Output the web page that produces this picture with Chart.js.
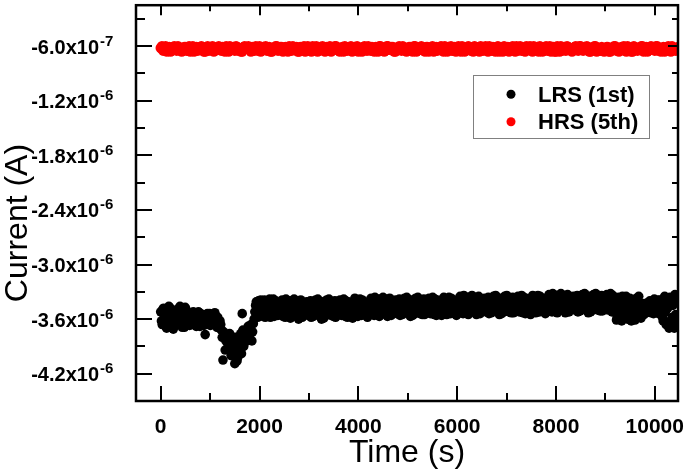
<!DOCTYPE html>
<html>
<head>
<meta charset="utf-8">
<script src="https://cdn.jsdelivr.net/npm/chart.js@4/dist/chart.umd.min.js"></script>
<style>
  html, body { margin: 0; padding: 0; background: #fff; }
  canvas { display: block; }
</style>
</head>
<body>
<canvas id="chart" width="685" height="474"></canvas>
<script>
const FONT = "'Liberation Sans', Arial, sans-serif";

// axis ranges and ticks
const xRange = [-500, 10470];
const yRange = [-4.5e-6, -1.5e-7];
const xMajorTicks = [0, 2000, 4000, 6000, 8000, 10000];
const xMinorTicks = [1000, 3000, 5000, 7000, 9000];
const yMajorTicks = [-6.0e-7, -1.2e-6, -1.8e-6, -2.4e-6, -3.0e-6, -3.6e-6, -4.2e-6];
const yMinorTicks = [-3.0e-7, -9.0e-7, -1.5e-6, -2.1e-6, -2.7e-6, -3.3e-6, -3.9e-6];
const yTickMantissa = ['-6.0x10', '-1.2x10', '-1.8x10', '-2.4x10', '-3.0x10', '-3.6x10', '-4.2x10'];
const yTickExponent = ['-7', '-6', '-6', '-6', '-6', '-6', '-6'];

const xTitle = 'Time (s)';
const yTitle = 'Current (A)';
const legendLabels = ['LRS (1st)', 'HRS (5th)'];
const seriesColors = ['#000000', '#ff0000'];

// LRS (1st), in µA: readings every 30 s starting at 0 s ...
const lrsInterval = 30;
const lrsCurrentA = [
  -3.52, -3.66, -3.48, -3.60, -3.70, -3.55, -3.47, -3.63, -3.58, -3.68, -3.50, -3.57, -3.65, -3.46, -3.61, -3.54, -3.69, -3.49, -3.59, -3.64,
  -3.55, -3.66, -3.52, -3.61, -3.68, -3.57, -3.53, -3.64, -3.59, -3.67, -3.77, -3.56, -3.62, -3.54, -3.66, -3.58, -3.64, -3.56, -3.69, -3.62,
  -3.62, -3.72, -4.05, -3.76, -3.84, -3.80, -3.90, -3.78, -3.96, -3.86, -4.09, -3.82, -4.02, -3.88, -3.76, -3.54, -3.90, -3.74, -3.84, -3.68,
  -3.80, -3.66, -3.74, -3.60, -3.45, -3.55, -3.40, -3.52, -3.44, -3.57, -3.39, -3.49, -3.55, -3.42, -3.58, -3.46, -3.38, -3.53, -3.44, -3.56,
  -3.45, -3.55, -3.39, -3.50, -3.58, -3.43, -3.52, -3.40, -3.56, -3.47, -3.38, -3.53, -3.44, -3.60, -3.49, -3.41, -3.55, -3.46, -3.51, -3.42,
  -3.54, -3.40, -3.48, -3.57, -3.43, -3.51, -3.38, -3.55, -3.46, -3.42, -3.59, -3.49, -3.39, -3.53, -3.45, -3.56, -3.41, -3.50, -3.58, -3.44,
  -3.47, -3.39, -3.56, -3.44, -3.52, -3.40, -3.58, -3.48, -3.42, -3.54, -3.45, -3.37, -3.51, -3.57, -3.43, -3.49, -3.39, -3.55, -3.46, -3.52,
  -3.42, -3.53, -3.37, -3.48, -3.56, -3.41, -3.50, -3.38, -3.54, -3.45, -3.36, -3.51, -3.43, -3.57, -3.47, -3.39, -3.53, -3.44, -3.49, -3.40,
  -3.52, -3.38, -3.46, -3.55, -3.41, -3.49, -3.36, -3.53, -3.44, -3.40, -3.56, -3.47, -3.37, -3.51, -3.43, -3.54, -3.39, -3.48, -3.55, -3.42,
  -3.45, -3.37, -3.54, -3.42, -3.50, -3.38, -3.56, -3.46, -3.40, -3.52, -3.43, -3.36, -3.49, -3.55, -3.41, -3.47, -3.37, -3.53, -3.44, -3.50,
  -3.40, -3.51, -3.35, -3.46, -3.54, -3.39, -3.48, -3.36, -3.52, -3.43, -3.34, -3.49, -3.41, -3.55, -3.45, -3.37, -3.51, -3.42, -3.47, -3.38,
  -3.50, -3.36, -3.44, -3.53, -3.39, -3.47, -3.34, -3.51, -3.42, -3.38, -3.54, -3.45, -3.35, -3.49, -3.41, -3.52, -3.37, -3.46, -3.53, -3.40,
  -3.43, -3.35, -3.52, -3.40, -3.48, -3.36, -3.54, -3.44, -3.38, -3.50, -3.41, -3.34, -3.47, -3.53, -3.39, -3.45, -3.35, -3.51, -3.42, -3.48,
  -3.38, -3.49, -3.33, -3.44, -3.52, -3.37, -3.46, -3.34, -3.50, -3.41, -3.32, -3.47, -3.39, -3.53, -3.43, -3.35, -3.49, -3.40, -3.45, -3.36,
  -3.48, -3.34, -3.42, -3.51, -3.37, -3.45, -3.32, -3.49, -3.40, -3.36, -3.52, -3.43, -3.33, -3.47, -3.39, -3.50, -3.35, -3.44, -3.51, -3.38,
  -3.41, -3.33, -3.50, -3.38, -3.46, -3.34, -3.52, -3.44, -3.58, -3.36, -3.50, -3.62, -3.42, -3.55, -3.35, -3.60, -3.47, -3.39, -3.57, -3.45,
  -3.61, -3.37, -3.52, -3.44, -3.59, -3.46, -3.55, -3.43, -3.50, -3.48, -3.40, -3.53, -3.45, -3.38, -3.51, -3.42, -3.54, -3.39, -3.47, -3.62,
  -3.35, -3.66, -3.48, -3.70, -3.40, -3.58, -3.68, -3.33, -3.63
];
// ... and the readings in between, starting at 15 s
const lrsOffsetB = 15;
const lrsCurrentB = [
  -3.62, -3.49, -3.57, -3.68, -3.53, -3.46, -3.64, -3.59, -3.71, -3.51, -3.56, -3.66, -3.48, -3.60, -3.69, -3.54, -3.47, -3.62, -3.58, -3.67,
  -3.60, -3.53, -3.65, -3.57, -3.63, -3.52, -3.68, -3.58, -3.55, -3.62, -3.66, -3.54, -3.60, -3.67, -3.56, -3.61, -3.53, -3.64, -3.58, -3.70,
  -3.66, -3.80, -3.74, -3.94, -3.82, -3.88, -3.76, -4.00, -3.90, -3.95, -3.80, -4.06, -3.92, -3.84, -3.98, -3.72, -3.86, -3.78, -3.74, -3.80,
  -3.70, -3.84, -3.65, -3.52, -3.41, -3.58, -3.47, -3.39, -3.55, -3.48, -3.58, -3.43, -3.51, -3.38, -3.53, -3.45, -3.57, -3.40, -3.50, -3.47,
  -3.50, -3.41, -3.57, -3.46, -3.38, -3.54, -3.48, -3.59, -3.43, -3.51, -3.56, -3.40, -3.49, -3.53, -3.39, -3.58, -3.45, -3.52, -3.41, -3.56,
  -3.47, -3.58, -3.42, -3.52, -3.39, -3.55, -3.45, -3.50, -3.60, -3.41, -3.48, -3.56, -3.44, -3.38, -3.53, -3.47, -3.57, -3.40, -3.51, -3.46,
  -3.55, -3.43, -3.50, -3.38, -3.57, -3.46, -3.41, -3.53, -3.48, -3.59, -3.40, -3.54, -3.45, -3.49, -3.38, -3.56, -3.44, -3.51, -3.42, -3.58,
  -3.48, -3.39, -3.55, -3.44, -3.36, -3.52, -3.46, -3.57, -3.41, -3.49, -3.54, -3.38, -3.47, -3.51, -3.37, -3.56, -3.43, -3.50, -3.39, -3.54,
  -3.45, -3.56, -3.40, -3.50, -3.37, -3.53, -3.43, -3.48, -3.57, -3.39, -3.46, -3.54, -3.42, -3.36, -3.51, -3.45, -3.55, -3.38, -3.49, -3.44,
  -3.53, -3.41, -3.48, -3.36, -3.55, -3.44, -3.39, -3.51, -3.46, -3.56, -3.38, -3.52, -3.43, -3.47, -3.36, -3.54, -3.42, -3.49, -3.40, -3.56,
  -3.46, -3.37, -3.53, -3.42, -3.34, -3.50, -3.44, -3.55, -3.39, -3.47, -3.52, -3.36, -3.45, -3.49, -3.35, -3.54, -3.41, -3.48, -3.37, -3.52,
  -3.43, -3.54, -3.38, -3.48, -3.35, -3.51, -3.41, -3.46, -3.55, -3.37, -3.44, -3.52, -3.40, -3.34, -3.49, -3.43, -3.53, -3.36, -3.47, -3.42,
  -3.51, -3.39, -3.46, -3.34, -3.53, -3.42, -3.37, -3.49, -3.44, -3.55, -3.36, -3.50, -3.41, -3.45, -3.34, -3.52, -3.40, -3.47, -3.38, -3.54,
  -3.44, -3.35, -3.51, -3.40, -3.32, -3.48, -3.42, -3.53, -3.37, -3.45, -3.50, -3.34, -3.43, -3.47, -3.33, -3.52, -3.39, -3.46, -3.35, -3.50,
  -3.41, -3.52, -3.36, -3.46, -3.33, -3.49, -3.39, -3.44, -3.53, -3.35, -3.42, -3.50, -3.38, -3.32, -3.47, -3.41, -3.51, -3.34, -3.45, -3.40,
  -3.49, -3.37, -3.44, -3.32, -3.52, -3.40, -3.47, -3.61, -3.39, -3.54, -3.45, -3.35, -3.59, -3.48, -3.41, -3.56, -3.37, -3.62, -3.50, -3.43,
  -3.55, -3.45, -3.35, -3.58, -3.49, -3.43, -3.46, -3.53, -3.42, -3.51, -3.47, -3.41, -3.54, -3.44, -3.49, -3.39, -3.52, -3.46, -3.58, -3.42,
  -3.52, -3.41, -3.67, -3.36, -3.61, -3.45, -3.70, -3.55, -3.38
];

// HRS (5th), in µA: readings every 50 s starting at 0 s ...
const hrsInterval = 50;
const hrsCurrentA = [
  -0.62, -0.65, -0.60, -0.63, -0.66, -0.61, -0.64, -0.60, -0.62, -0.65,
  -0.61, -0.64, -0.66, -0.60, -0.63, -0.65, -0.61, -0.62, -0.66, -0.60,
  -0.63, -0.60, -0.65, -0.62, -0.64, -0.61, -0.66, -0.63, -0.60, -0.64,
  -0.65, -0.61, -0.63, -0.66, -0.60, -0.62, -0.64, -0.61, -0.65, -0.62,
  -0.60, -0.64, -0.62, -0.65, -0.61, -0.66, -0.63, -0.60, -0.64, -0.61,
  -0.64, -0.62, -0.60, -0.65, -0.63, -0.61, -0.66, -0.62, -0.60, -0.65,
  -0.61, -0.66, -0.63, -0.60, -0.64, -0.62, -0.65, -0.61, -0.63, -0.66,
  -0.63, -0.60, -0.65, -0.62, -0.66, -0.61, -0.64, -0.60, -0.65, -0.62,
  -0.66, -0.62, -0.61, -0.64, -0.60, -0.65, -0.63, -0.61, -0.66, -0.60,
  -0.62, -0.65, -0.60, -0.63, -0.61, -0.66, -0.62, -0.64, -0.60, -0.63,
  -0.64, -0.61, -0.66, -0.60, -0.65, -0.62, -0.63, -0.66, -0.61, -0.64,
  -0.60, -0.63, -0.65, -0.61, -0.64, -0.60, -0.66, -0.62, -0.65, -0.61,
  -0.65, -0.62, -0.60, -0.66, -0.63, -0.61, -0.64, -0.60, -0.62, -0.66,
  -0.61, -0.64, -0.62, -0.60, -0.65, -0.63, -0.61, -0.66, -0.64, -0.60,
  -0.63, -0.66, -0.61, -0.64, -0.60, -0.62, -0.65, -0.63, -0.60, -0.64,
  -0.62, -0.60, -0.64, -0.66, -0.61, -0.65, -0.60, -0.63, -0.66, -0.61,
  -0.66, -0.63, -0.60, -0.62, -0.65, -0.61, -0.64, -0.62, -0.60, -0.65,
  -0.60, -0.65, -0.63, -0.61, -0.66, -0.64, -0.60, -0.62, -0.65, -0.63,
  -0.64, -0.61, -0.66, -0.63, -0.60, -0.62, -0.65, -0.61, -0.64, -0.60,
  -0.62, -0.66, -0.61, -0.65, -0.63, -0.60, -0.64, -0.66, -0.61, -0.63,
  -0.65, -0.60, -0.63, -0.62, -0.66, -0.61, -0.64, -0.60, -0.63, -0.62
];
// ... and the readings in between, starting at 25 s
const hrsOffsetB = 25;
const hrsCurrentB = [
  -0.60, -0.64, -0.66, -0.61, -0.63, -0.60, -0.65, -0.62, -0.66, -0.61,
  -0.65, -0.60, -0.62, -0.66, -0.61, -0.64, -0.60, -0.66, -0.63, -0.65,
  -0.61, -0.66, -0.62, -0.60, -0.65, -0.63, -0.60, -0.66, -0.62, -0.61,
  -0.60, -0.65, -0.66, -0.61, -0.63, -0.60, -0.66, -0.62, -0.60, -0.65,
  -0.66, -0.61, -0.60, -0.64, -0.66, -0.62, -0.60, -0.65, -0.61, -0.66,
  -0.61, -0.66, -0.63, -0.60, -0.62, -0.66, -0.61, -0.64, -0.66, -0.60,
  -0.65, -0.60, -0.62, -0.66, -0.61, -0.60, -0.66, -0.63, -0.60, -0.64,
  -0.60, -0.64, -0.66, -0.61, -0.60, -0.65, -0.62, -0.66, -0.61, -0.60,
  -0.62, -0.66, -0.60, -0.65, -0.62, -0.61, -0.66, -0.64, -0.60, -0.65,
  -0.66, -0.60, -0.64, -0.61, -0.66, -0.63, -0.60, -0.65, -0.62, -0.66,
  -0.61, -0.65, -0.60, -0.66, -0.62, -0.60, -0.65, -0.61, -0.66, -0.63,
  -0.66, -0.61, -0.62, -0.60, -0.66, -0.64, -0.61, -0.60, -0.65, -0.66,
  -0.60, -0.66, -0.64, -0.62, -0.60, -0.65, -0.66, -0.61, -0.63, -0.60,
  -0.65, -0.60, -0.66, -0.63, -0.61, -0.66, -0.60, -0.62, -0.66, -0.64,
  -0.61, -0.63, -0.60, -0.66, -0.65, -0.60, -0.62, -0.66, -0.61, -0.60,
  -0.66, -0.64, -0.61, -0.60, -0.66, -0.62, -0.65, -0.60, -0.61, -0.66,
  -0.60, -0.66, -0.65, -0.61, -0.60, -0.64, -0.66, -0.61, -0.63, -0.60,
  -0.64, -0.61, -0.60, -0.66, -0.62, -0.60, -0.66, -0.65, -0.61, -0.66,
  -0.61, -0.66, -0.63, -0.60, -0.65, -0.66, -0.61, -0.60, -0.66, -0.62,
  -0.66, -0.60, -0.64, -0.62, -0.60, -0.66, -0.61, -0.65, -0.60, -0.64,
  -0.60, -0.65, -0.66, -0.61, -0.63, -0.60, -0.66, -0.62, -0.65, -0.61
];

// readings are evenly spaced in time; values are µA, axis is A
const toPoints = (values, interval, start) =>
  values.map((v, i) => ({ x: start + i * interval, y: v * 1e-6 }));

const lrsPoints = toPoints(lrsCurrentA, lrsInterval, 0).concat(toPoints(lrsCurrentB, lrsInterval, lrsOffsetB));
const hrsPoints = toPoints(hrsCurrentA, hrsInterval, 0).concat(toPoints(hrsCurrentB, hrsInterval, hrsOffsetB));

// frame, inward ticks, superscript y labels, y title and legend
const decorPlugin = {
  id: 'decor',
  afterDraw(chart) {
    const { ctx, chartArea: a, scales: { x, y } } = chart;
    ctx.save();
    ctx.strokeStyle = '#000';
    ctx.fillStyle = '#000';

    const line = (x1, y1, x2, y2) => {
      ctx.beginPath();
      ctx.moveTo(x1, y1);
      ctx.lineTo(x2, y2);
      ctx.stroke();
    };

    ctx.lineWidth = 2;
    xMajorTicks.forEach(v => {
      const px = Math.round(x.getPixelForValue(v));
      line(px, a.bottom, px, a.bottom - 15);
      line(px, a.top, px, a.top + 10);
    });
    xMinorTicks.forEach(v => {
      const px = Math.round(x.getPixelForValue(v));
      line(px, a.bottom, px, a.bottom - 8);
      line(px, a.top, px, a.top + 6);
    });
    yMajorTicks.forEach(v => {
      const py = Math.round(y.getPixelForValue(v));
      line(a.left, py, a.left + 16, py);
      line(a.right, py, a.right - 10, py);
    });
    yMinorTicks.forEach(v => {
      const py = Math.round(y.getPixelForValue(v));
      line(a.left, py, a.left + 9, py);
      line(a.right, py, a.right - 6, py);
    });

    ctx.lineWidth = 2.5;
    ctx.strokeRect(a.left, a.top, a.right - a.left, a.bottom - a.top);

    // y tick labels with superscript exponent
    ctx.textBaseline = 'alphabetic';
    yMajorTicks.forEach((v, i) => {
      const py = y.getPixelForValue(v);
      ctx.font = `bold 20px ${FONT}`;
      ctx.textAlign = 'right';
      ctx.fillText(yTickMantissa[i], 99, py + 7.5);
      ctx.font = `bold 15px ${FONT}`;
      ctx.textAlign = 'left';
      ctx.fillText(yTickExponent[i], 100, py - 0.5);
    });

    // y title
    ctx.save();
    ctx.translate(27, 223);
    ctx.rotate(-Math.PI / 2);
    ctx.font = `32px ${FONT}`;
    ctx.textAlign = 'center';
    ctx.fillText(yTitle, 0, 0);
    ctx.restore();

    // legend
    ctx.lineWidth = 1;
    ctx.strokeStyle = '#808080';
    ctx.strokeRect(473.5, 75.5, 176, 63);
    const rows = [94.3, 121.7];
    ctx.font = `bold 22px ${FONT}`;
    ctx.textAlign = 'left';
    legendLabels.forEach((label, i) => {
      ctx.fillStyle = seriesColors[i];
      ctx.beginPath();
      ctx.arc(511, rows[i], 4.5, 0, Math.PI * 2);
      ctx.fill();
      ctx.fillStyle = '#000';
      ctx.fillText(label, 538, rows[i] + 7.5);
    });

    ctx.restore();
  }
};

new Chart(document.getElementById('chart'), {
  type: 'scatter',
  data: {
    datasets: [
      {
        label: legendLabels[0],
        data: lrsPoints,
        backgroundColor: seriesColors[0],
        borderWidth: 0,
        pointRadius: 4.8,
        clip: 0
      },
      {
        label: legendLabels[1],
        data: hrsPoints,
        backgroundColor: seriesColors[1],
        borderWidth: 0,
        pointRadius: 5.2,
        clip: 0
      }
    ]
  },
  options: {
    responsive: false,
    animation: false,
    events: [],
    layout: { padding: { top: 2, right: 7, left: 0, bottom: 0 } },
    plugins: {
      legend: { display: false },
      tooltip: { enabled: false }
    },
    scales: {
      x: {
        type: 'linear',
        min: xRange[0],
        max: xRange[1],
        grid: { display: false, drawTicks: false },
        border: { display: false },
        afterBuildTicks: s => { s.ticks = xMajorTicks.map(v => ({ value: v })); },
        afterFit: s => {
          s.height = 73;
          s.paddingLeft = 0;
          s.paddingRight = 0;
        },
        ticks: {
          color: '#000',
          padding: 14,
          maxRotation: 0,
          autoSkip: false,
          font: { family: FONT, size: 21, weight: 'bold' },
          callback: v => String(v)
        },
        title: {
          display: true,
          text: xTitle,
          color: '#000',
          font: { family: FONT, size: 32 },
          padding: { top: 0, bottom: 2 }
        }
      },
      y: {
        type: 'linear',
        min: yRange[0],
        max: yRange[1],
        grid: { display: false, drawTicks: false },
        border: { display: false },
        afterBuildTicks: s => { s.ticks = yMajorTicks.map(v => ({ value: v })); },
        afterFit: s => {
          s.width = 136;
          s.paddingTop = 0;
          s.paddingBottom = 0;
        },
        ticks: { display: false }
      }
    }
  },
  plugins: [decorPlugin]
});
</script>
</body>
</html>
